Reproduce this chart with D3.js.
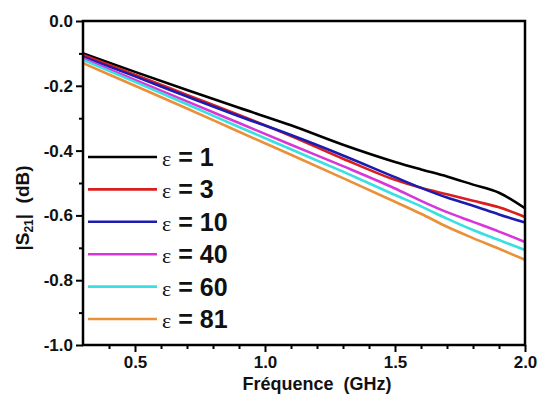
<!DOCTYPE html>
<html><head><meta charset="utf-8">
<script src="https://cdn.jsdelivr.net/npm/d3@7"></script>
<style>body{margin:0;background:#fff;} svg{display:block;font-family:"Liberation Sans",Arial,sans-serif;}</style>
</head><body><svg id="c" width="537" height="398"></svg>
<script>
const freq = [0.3, 0.5, 0.7, 0.9, 1.1, 1.3, 1.5, 1.6, 1.7, 1.8, 1.9, 2.0];
const eps1  = [-0.100, -0.157, -0.213, -0.268, -0.322, -0.382, -0.435, -0.458, -0.480, -0.505, -0.530, -0.578];
const eps3  = [-0.105, -0.166, -0.228, -0.290, -0.355, -0.425, -0.490, -0.515, -0.535, -0.555, -0.575, -0.605];
const eps10 = [-0.110, -0.171, -0.233, -0.294, -0.352, -0.415, -0.482, -0.515, -0.545, -0.570, -0.597, -0.622];
const eps40 = [-0.115, -0.182, -0.248, -0.315, -0.382, -0.448, -0.517, -0.555, -0.590, -0.620, -0.650, -0.682];
const eps60 = [-0.120, -0.188, -0.257, -0.327, -0.396, -0.465, -0.537, -0.572, -0.610, -0.645, -0.676, -0.707];
const eps81 = [-0.130, -0.200, -0.270, -0.342, -0.413, -0.485, -0.558, -0.595, -0.635, -0.670, -0.703, -0.737];
const seriesNames = ["1", "3", "10", "40", "60", "81"];
const seriesColors = ["#000000", "#d81e1e", "#1c1cb0", "#d836d8", "#38e0e0", "#ea9038"];
const xTicks = [0.5, 1.0, 1.5, 2.0];
const yTicks = [0.0, -0.2, -0.4, -0.6, -0.8, -1.0];

const series = [eps1, eps3, eps10, eps40, eps60, eps81];
const svg = d3.select("#c");
const L = 83, R = 525, T = 21, B = 345;
const x = d3.scaleLinear().domain([0.3, 2.0]).range([L, R]);
const y = d3.scaleLinear().domain([-1.0, 0.0]).range([B, T]);

const xMinor = d3.range(4, 21).map(d => d / 10).filter(d => !xTicks.some(t => Math.abs(t - d) < 1e-9));
const yMinor = d3.range(-9, 0, 2).map(d => d / 10);

const gx = svg.append("g").attr("transform", `translate(0,${B})`);
gx.call(d3.axisBottom(x).tickValues(xTicks).tickFormat(d3.format(".1f")).tickSize(7).tickPadding(4));
gx.selectAll("text").attr("font-size", 17).attr("font-weight", "bold").attr("fill", "#111");
gx.selectAll(".domain").remove();
gx.selectAll(".tick line").attr("stroke", "#000").attr("stroke-width", 2);
svg.append("g").attr("transform", `translate(0,${B})`)
  .call(d3.axisBottom(x).tickValues(xMinor).tickFormat("").tickSize(4))
  .call(g => g.select(".domain").remove())
  .selectAll(".tick line").attr("stroke", "#000").attr("stroke-width", 2);

const gy = svg.append("g").attr("transform", `translate(${L},0)`);
gy.call(d3.axisLeft(y).tickValues(yTicks).tickFormat(d3.format(".1f")).tickSize(7).tickPadding(3));
gy.selectAll("text").attr("font-size", 17).attr("font-weight", "bold").attr("fill", "#111")
  .text(d => d3.format(".1f")(d).replace("−", "-"));
gy.selectAll(".domain").remove();
gy.selectAll(".tick line").attr("stroke", "#000").attr("stroke-width", 2);
svg.append("g").attr("transform", `translate(${L},0)`)
  .call(d3.axisLeft(y).tickValues(yMinor).tickFormat("").tickSize(4))
  .call(g => g.select(".domain").remove())
  .selectAll(".tick line").attr("stroke", "#000").attr("stroke-width", 2);

const line = d3.line().x((d, i) => x(freq[i])).y(d => y(d)).curve(d3.curveMonotoneX);
series.forEach((s, k) => {
  svg.append("path").datum(s).attr("d", line).attr("fill", "none")
    .attr("stroke", seriesColors[k]).attr("stroke-width", 2.6).attr("stroke-linejoin", "round");
});

svg.append("rect").attr("x", L).attr("y", T).attr("width", R - L).attr("height", B - T)
  .attr("fill", "none").attr("stroke", "#000").attr("stroke-width", 2.5);

const lg = svg.append("g");
seriesNames.forEach((n, k) => {
  const yy = 157 + k * 32.4;
  lg.append("line").attr("x1", 88).attr("x2", 157).attr("y1", yy).attr("y2", yy)
    .attr("stroke", seriesColors[k]).attr("stroke-width", 2.6);
  const t = lg.append("text").attr("x", 162).attr("y", yy + 9).attr("fill", "#111");
  t.append("tspan").attr("font-size", 22).attr("font-family", "'Liberation Serif',serif").text("ε");
  t.append("tspan").attr("font-size", 25).attr("font-weight", "bold").text(" = " + n);
});

svg.append("text").attr("x", 317).attr("y", 390).attr("text-anchor", "middle")
  .attr("font-size", 18).attr("font-weight", "bold").attr("fill", "#111")
  .attr("xml:space", "preserve").text("Fréquence  (GHz)");
const yt = svg.append("text").attr("transform", "translate(29,208) rotate(-90)")
  .attr("text-anchor", "middle").attr("font-size", 19).attr("font-weight", "bold").attr("fill", "#111")
  .attr("xml:space", "preserve");
yt.append("tspan").text("|S");
yt.append("tspan").attr("font-size", 12).attr("dy", 4).text("21");
yt.append("tspan").attr("dy", -4).text("|  (dB)");
</script></body></html>
